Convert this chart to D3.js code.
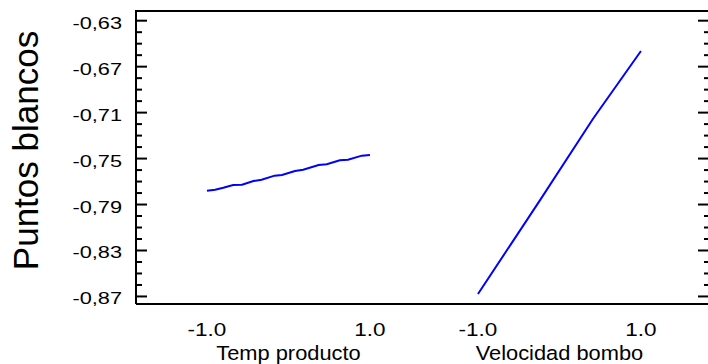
<!DOCTYPE html>
<html>
<head>
<meta charset="utf-8">
<script src="https://cdn.jsdelivr.net/npm/d3@7"></script>
<style>
    html, body { margin: 0; padding: 0; background: #fff; }
    svg { display: block; font-family: "Liberation Sans", Arial, sans-serif; }
</style>
</head>
<body>
<div id="chart"></div>
<script>
// factores y niveles
const factors = ["Temp producto", "Velocidad bombo"];
const levelTicks = [-1.0, 1.0];
const yMajorTicks = [-0.87, -0.83, -0.79, -0.75, -0.71, -0.67, -0.63];
const yMinorTicks = [-0.86, -0.85, -0.84, -0.82, -0.81, -0.80, -0.78, -0.77, -0.76,
                     -0.74, -0.73, -0.72, -0.70, -0.69, -0.68, -0.66, -0.65, -0.64];

// Temp producto
const tempLevels = [-1.0, -0.9, -0.8, -0.68, -0.57, -0.43, -0.33, -0.17, -0.08,
                    0.08, 0.18, 0.37, 0.47, 0.63, 0.73, 0.9, 1.0];
const tempEffect = [-0.7784, -0.7775, -0.7758, -0.7734, -0.7732, -0.7700, -0.7688, -0.7653, -0.7647,
                    -0.7613, -0.7601, -0.7560, -0.7554, -0.7519, -0.7514, -0.7479, -0.7473];

// Velocidad bombo
const velLevels = [-1.0, -0.24, 0.41, 1.0];
const velEffect = [-0.8683, -0.7868, -0.7160, -0.6568];

const width = 708, height = 364;
const plotLeft = 136, plotRight = 709, plotTop = 11, plotBottom = 304;
const factorGap = 3.325;

const svg = d3.select("#chart").append("svg")
    .attr("width", width)
    .attr("height", height);

const x = d3.scaleLinear().domain([-1.871, 5.16]).range([plotLeft, plotRight]);
const y = d3.scaleLinear().domain([-0.877, -0.622]).range([plotBottom, plotTop]);
const fx = (i, v) => x(i * factorGap + v);
const fmt = d => d3.format(".2f")(d).replace(".", ",").replace("−", "-");

// ticks eje izquierdo
const yAxis = svg.append("g")
    .attr("transform", `translate(${plotLeft},0)`)
    .call(d3.axisLeft(y).tickValues(yMajorTicks).tickSizeInner(-11).tickSizeOuter(0).tickFormat(fmt));
yAxis.select(".domain").remove();
yAxis.selectAll("line").attr("stroke", "#000").attr("stroke-width", 2);
yAxis.selectAll("text")
    .attr("x", null).attr("dy", null)
    .attr("transform", "translate(-14,8) scale(1.28,1)")
    .attr("font-size", 17)
    .attr("fill", "#000")
    .attr("font-family", "Liberation Sans, Arial, sans-serif");

const yMinor = svg.append("g")
    .attr("transform", `translate(${plotLeft},0)`)
    .call(d3.axisLeft(y).tickValues(yMinorTicks).tickSizeInner(-6).tickSizeOuter(0).tickFormat(""));
yMinor.select(".domain").remove();
yMinor.selectAll("line").attr("stroke", "#000").attr("stroke-width", 2);

// ticks eje derecho
const yRight = svg.append("g")
    .attr("transform", `translate(${plotRight},0)`)
    .call(d3.axisRight(y).tickValues(yMajorTicks).tickSizeInner(-11).tickSizeOuter(0).tickFormat(""));
yRight.select(".domain").remove();
yRight.selectAll("line").attr("stroke", "#000").attr("stroke-width", 2);

const yRightMinor = svg.append("g")
    .attr("transform", `translate(${plotRight},0)`)
    .call(d3.axisRight(y).tickValues(yMinorTicks).tickSizeInner(-5).tickSizeOuter(0).tickFormat(""));
yRightMinor.select(".domain").remove();
yRightMinor.selectAll("line").attr("stroke", "#000").attr("stroke-width", 2);

// marco
svg.append("path")
    .attr("d", `M${plotLeft},${plotBottom}V${plotTop}H${plotRight}M${plotLeft},${plotBottom}H${plotRight}`)
    .attr("fill", "none")
    .attr("stroke", "#000")
    .attr("stroke-width", 2);

// etiquetas eje x
factors.forEach((name, i) => {
    levelTicks.forEach(v => {
        svg.append("text")
            .attr("transform", `translate(${fx(i, v)},336) scale(1.25,1)`)
            .attr("text-anchor", "middle")
            .attr("font-size", 18)
            .text(v.toFixed(1));
    });
    svg.append("text")
        .attr("transform", `translate(${fx(i, 0)},360) scale(1.12,1)`)
        .attr("text-anchor", "middle")
        .attr("font-size", 19.5)
        .text(name);
});

svg.append("text")
    .attr("transform", `translate(38,${(32 + 269) / 2}) rotate(-90)`)
    .attr("text-anchor", "middle")
    .attr("font-size", 35)
    .text("Puntos blancos");

// lineas de efectos
const series = [
    { levels: tempLevels, effect: tempEffect },
    { levels: velLevels, effect: velEffect }
];
const line = i => d3.line().x(d => fx(i, d[0])).y(d => y(d[1]));

series.forEach((s, i) => {
    svg.append("path")
        .datum(s.levels.map((v, k) => [v, s.effect[k]]))
        .attr("d", line(i))
        .attr("fill", "none")
        .attr("stroke", "#0000ff")
        .attr("stroke-width", 2);
});
</script>
</body>
</html>
